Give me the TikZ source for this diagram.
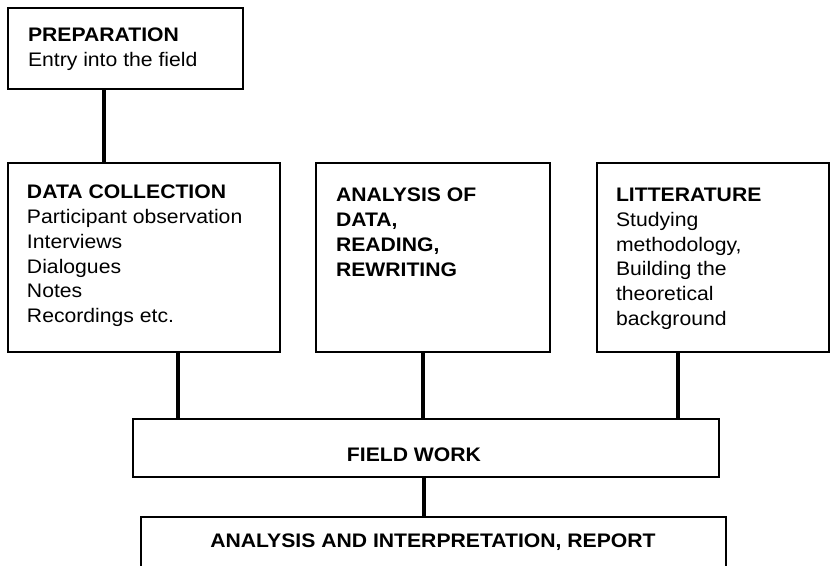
\documentclass[tikz,border=0pt]{standalone}
\usepackage{fontspec}
\setmainfont{Liberation Sans}[FakeStretch=1.08]
\begin{document}
\begin{tikzpicture}[x=1pt,y=-1pt,
  box/.style={draw, line width=1.8pt, fill=white, inner sep=0pt, outer sep=0pt, anchor=north west},
  conn/.style={line width=3.3pt},
  txt/.style={inner sep=0pt, outer sep=0pt, anchor=north west, align=left, font=\fontsize{19.6}{24.8}\selectfont},
  ctxt/.style={inner sep=0pt, outer sep=0pt, font=\fontsize{19.6}{24.8}\selectfont\bfseries}]
\useasboundingbox (0,0) rectangle (830,565);
\fill[white] (0,0) rectangle (830,565);
\clip (0,0) rectangle (830,565);
% boxes
\node[box, minimum width=235pt, minimum height=81pt] (prep) at (8,8) {};
\node[box, minimum width=272pt, minimum height=189pt] (dc) at (8,163) {};
\node[box, minimum width=234pt, minimum height=189pt] (an) at (316,163) {};
\node[box, minimum width=232pt, minimum height=189pt] (lit) at (597,163) {};
\node[box, minimum width=586pt, minimum height=58pt] (fw) at (133,419) {};
\node[box, minimum width=585pt, minimum height=62pt] (rep) at (141,517) {};
% connectors
\draw[conn] ([xshift=96pt]prep.south west) -- ([xshift=96pt]dc.north west);
\draw[conn] ([xshift=170pt]dc.south west) -- ([xshift=45pt]fw.north west);
\draw[conn] ([xshift=107pt]an.south west) -- ([xshift=290pt]fw.north west);
\draw[conn] ([xshift=81pt]lit.south west) -- ([xshift=545pt]fw.north west);
\draw[conn] ([xshift=291pt]fw.south west) -- ([xshift=283pt]rep.north west);
% texts
\node[txt] (tprep) at (28,28) {\textbf{PREPARATION}\\Entry into the field};
\node[txt] (tdc) at (27,185) {\textbf{DATA COLLECTION}\\Participant observation\\Interviews\\Dialogues\\Notes\\Recordings etc.};
\node[txt] (tan) at (336,188) {\textbf{ANALYSIS OF}\\\textbf{DATA,}\\\textbf{READING,}\\\textbf{REWRITING}};
\node[txt] (tlit) at (616,188) {\textbf{LITTERATURE}\\Studying\\methodology,\\Building the\\theoretical\\background};
\node[ctxt] (tfw) at (414,455) {FIELD WORK};
\node[ctxt] (trep) at (433,542) {ANALYSIS AND INTERPRETATION, REPORT};
\end{tikzpicture}
\end{document}
